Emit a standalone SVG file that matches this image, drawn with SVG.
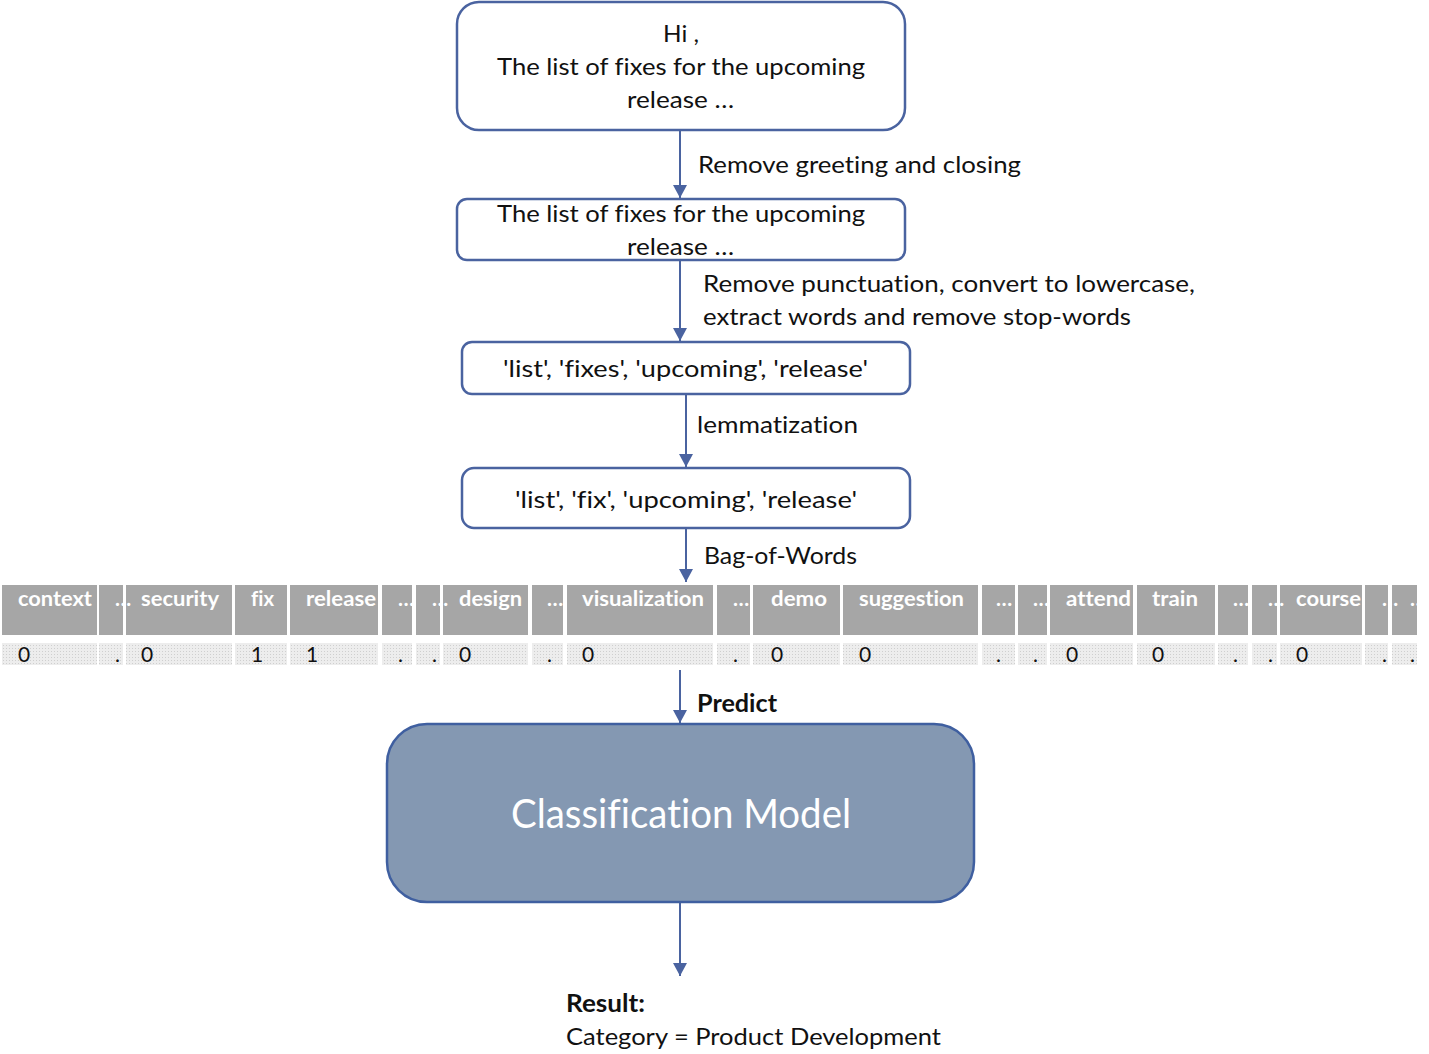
<svg xmlns="http://www.w3.org/2000/svg" width="1429" height="1054" viewBox="0 0 1429 1054">
<defs>
<style>
text{font-variant-ligatures:none;font-feature-settings:"liga" 0}
.t{font-family:Lato,"Liberation Sans",sans-serif;font-size:24px;fill:#111}
.tb{font-family:Lato,"Liberation Sans",sans-serif;font-size:24px;font-weight:bold;fill:#111}
.box{fill:#fff;stroke:#4a63a0;stroke-width:2.5}
.conn{stroke:#4a63a0;stroke-width:2;fill:none;marker-end:url(#ah)}
.hd{fill:#a6a6a6}
.vl{fill:url(#dots)}
.ht{font-family:Lato,"Liberation Sans",sans-serif;font-weight:bold;font-size:21px;fill:#fff}
.vt{font-family:Lato,"Liberation Sans",sans-serif;font-size:21px;fill:#111}
</style>
<marker id="ah" markerUnits="userSpaceOnUse" markerWidth="14" markerHeight="14" refX="13" refY="7" orient="auto">
<path d="M0,0 L13,7 L0,14 z" fill="#4a63a0"/>
</marker>
<pattern id="dots" width="3" height="3" patternUnits="userSpaceOnUse">
<rect width="3" height="3" fill="#ededed"/>
<rect width="1" height="1" fill="#cfcfcf"/>
</pattern>
<clipPath id="tclip"><rect x="0" y="580" width="1417" height="90"/></clipPath>
</defs>

<g id="connectors">
<line class="conn" x1="680" y1="131" x2="680" y2="198"/>
<line class="conn" x1="680" y1="261" x2="680" y2="341"/>
<line class="conn" x1="686" y1="395" x2="686" y2="467"/>
<line class="conn" x1="686" y1="529" x2="686" y2="582"/>
<line class="conn" x1="680" y1="670" x2="680" y2="723"/>
<line class="conn" x1="680" y1="903" x2="680" y2="976"/>
<text class="t" x="698" y="173" textLength="323" lengthAdjust="spacingAndGlyphs">Remove greeting and closing</text>
<text class="t" x="703" y="292" textLength="492" lengthAdjust="spacingAndGlyphs">Remove punctuation, convert to lowercase,</text>
<text class="t" x="703" y="325" textLength="428" lengthAdjust="spacingAndGlyphs">extract words and remove stop-words</text>
<text class="t" x="697" y="433" textLength="161" lengthAdjust="spacingAndGlyphs">lemmatization</text>
<text class="t" x="704" y="564" textLength="153" lengthAdjust="spacingAndGlyphs">Bag-of-Words</text>
<text class="tb" x="697" y="712" textLength="80" lengthAdjust="spacingAndGlyphs">Predict</text>
</g>

<g id="email">
<rect class="box" x="457" y="2" width="448" height="128" rx="22"/>
<text class="t" x="663" y="42" textLength="36" lengthAdjust="spacingAndGlyphs">Hi ,</text>
<text class="t" x="497" y="75" textLength="368" lengthAdjust="spacingAndGlyphs">The list of fixes for the upcoming</text>
<text class="t" x="627" y="108" textLength="107" lengthAdjust="spacingAndGlyphs">release …</text>
</g>

<g id="body">
<rect class="box" x="457" y="199" width="448" height="61" rx="10"/>
<text class="t" x="497" y="222" textLength="368" lengthAdjust="spacingAndGlyphs">The list of fixes for the upcoming</text>
<text class="t" x="627" y="255" textLength="107" lengthAdjust="spacingAndGlyphs">release …</text>
</g>

<g id="tokens">
<rect class="box" x="462" y="342" width="448" height="52" rx="10"/>
<text class="t" x="503" y="377" textLength="365" lengthAdjust="spacingAndGlyphs">'list', 'fixes', 'upcoming', 'release'</text>
</g>

<g id="lemmas">
<rect class="box" x="462" y="468" width="448" height="60" rx="12"/>
<text class="t" x="515" y="508" textLength="342" lengthAdjust="spacingAndGlyphs">'list', 'fix', 'upcoming', 'release'</text>
</g>

<g id="bow" clip-path="url(#tclip)">
<rect class="hd" x="2" y="585" width="95" height="50"/>
<rect class="hd" x="99" y="585" width="24" height="50"/>
<rect class="hd" x="126" y="585" width="106" height="50"/>
<rect class="hd" x="235" y="585" width="52" height="50"/>
<rect class="hd" x="290" y="585" width="88" height="50"/>
<rect class="hd" x="382" y="585" width="30" height="50"/>
<rect class="hd" x="416" y="585" width="24" height="50"/>
<rect class="hd" x="443" y="585" width="85" height="50"/>
<rect class="hd" x="532" y="585" width="31" height="50"/>
<rect class="hd" x="567" y="585" width="146" height="50"/>
<rect class="hd" x="717" y="585" width="33" height="50"/>
<rect class="hd" x="753" y="585" width="87" height="50"/>
<rect class="hd" x="843" y="585" width="135" height="50"/>
<rect class="hd" x="982" y="585" width="33" height="50"/>
<rect class="hd" x="1018" y="585" width="29" height="50"/>
<rect class="hd" x="1050" y="585" width="83" height="50"/>
<rect class="hd" x="1137" y="585" width="78" height="50"/>
<rect class="hd" x="1218" y="585" width="30" height="50"/>
<rect class="hd" x="1252" y="585" width="25" height="50"/>
<rect class="hd" x="1280" y="585" width="82" height="50"/>
<rect class="hd" x="1365" y="585" width="23" height="50"/>
<rect class="hd" x="1392" y="585" width="25" height="50"/>

<rect class="vl" x="2" y="643" width="95" height="22"/>
<rect class="vl" x="99" y="643" width="24" height="22"/>
<rect class="vl" x="126" y="643" width="106" height="22"/>
<rect class="vl" x="235" y="643" width="52" height="22"/>
<rect class="vl" x="290" y="643" width="88" height="22"/>
<rect class="vl" x="382" y="643" width="30" height="22"/>
<rect class="vl" x="416" y="643" width="24" height="22"/>
<rect class="vl" x="443" y="643" width="85" height="22"/>
<rect class="vl" x="532" y="643" width="31" height="22"/>
<rect class="vl" x="567" y="643" width="146" height="22"/>
<rect class="vl" x="717" y="643" width="33" height="22"/>
<rect class="vl" x="753" y="643" width="87" height="22"/>
<rect class="vl" x="843" y="643" width="135" height="22"/>
<rect class="vl" x="982" y="643" width="33" height="22"/>
<rect class="vl" x="1018" y="643" width="29" height="22"/>
<rect class="vl" x="1050" y="643" width="83" height="22"/>
<rect class="vl" x="1137" y="643" width="78" height="22"/>
<rect class="vl" x="1218" y="643" width="30" height="22"/>
<rect class="vl" x="1252" y="643" width="25" height="22"/>
<rect class="vl" x="1280" y="643" width="82" height="22"/>
<rect class="vl" x="1365" y="643" width="23" height="22"/>
<rect class="vl" x="1392" y="643" width="25" height="22"/>

<text class="ht" x="18" y="606" textLength="74" lengthAdjust="spacingAndGlyphs">context</text>
<text class="ht" x="115" y="606">…</text>
<text class="ht" x="141" y="606" textLength="78" lengthAdjust="spacingAndGlyphs">security</text>
<text class="ht" x="251" y="606" textLength="23" lengthAdjust="spacingAndGlyphs">fix</text>
<text class="ht" x="306" y="606" textLength="70" lengthAdjust="spacingAndGlyphs">release</text>
<text class="ht" x="398" y="606">…</text>
<text class="ht" x="432" y="606">…</text>
<text class="ht" x="459" y="606" textLength="63" lengthAdjust="spacingAndGlyphs">design</text>
<text class="ht" x="547" y="606">…</text>
<text class="ht" x="582" y="606" textLength="122" lengthAdjust="spacingAndGlyphs">visualization</text>
<text class="ht" x="733" y="606">…</text>
<text class="ht" x="771" y="606" textLength="56" lengthAdjust="spacingAndGlyphs">demo</text>
<text class="ht" x="859" y="606" textLength="105" lengthAdjust="spacingAndGlyphs">suggestion</text>
<text class="ht" x="996" y="606">…</text>
<text class="ht" x="1033" y="606">…</text>
<text class="ht" x="1066" y="606" textLength="65" lengthAdjust="spacingAndGlyphs">attend</text>
<text class="ht" x="1152" y="606" textLength="46" lengthAdjust="spacingAndGlyphs">train</text>
<text class="ht" x="1233" y="606">…</text>
<text class="ht" x="1268" y="606">…</text>
<text class="ht" x="1296" y="606" textLength="65" lengthAdjust="spacingAndGlyphs">course</text>
<text class="ht" x="1382" y="606">…</text>
<text class="ht" x="1410" y="606">…</text>

<text class="vt" x="18" y="662">0</text>
<text class="vt" x="115" y="662">.</text>
<text class="vt" x="141" y="662">0</text>
<text class="vt" x="251" y="662">1</text>
<text class="vt" x="306" y="662">1</text>
<text class="vt" x="398" y="662">.</text>
<text class="vt" x="432" y="662">.</text>
<text class="vt" x="459" y="662">0</text>
<text class="vt" x="547" y="662">.</text>
<text class="vt" x="582" y="662">0</text>
<text class="vt" x="733" y="662">.</text>
<text class="vt" x="771" y="662">0</text>
<text class="vt" x="859" y="662">0</text>
<text class="vt" x="996" y="662">.</text>
<text class="vt" x="1033" y="662">.</text>
<text class="vt" x="1066" y="662">0</text>
<text class="vt" x="1152" y="662">0</text>
<text class="vt" x="1233" y="662">.</text>
<text class="vt" x="1268" y="662">.</text>
<text class="vt" x="1296" y="662">0</text>
<text class="vt" x="1382" y="662">.</text>
<text class="vt" x="1410" y="662">.</text>
</g>

<g id="model">
<rect x="387" y="724" width="587" height="178" rx="40" fill="#8498b2" stroke="#3f5fa0" stroke-width="2.5"/>
<text x="511" y="828" textLength="340" lengthAdjust="spacingAndGlyphs" style="font-family:Lato,'Liberation Sans',sans-serif;font-size:40px;fill:#fff">Classification Model</text>
</g>

<g id="result">
<text class="tb" x="566" y="1012" textLength="79" lengthAdjust="spacingAndGlyphs">Result:</text>
<text class="t" x="566" y="1045" textLength="375" lengthAdjust="spacingAndGlyphs">Category = Product Development</text>
</g>
</svg>
